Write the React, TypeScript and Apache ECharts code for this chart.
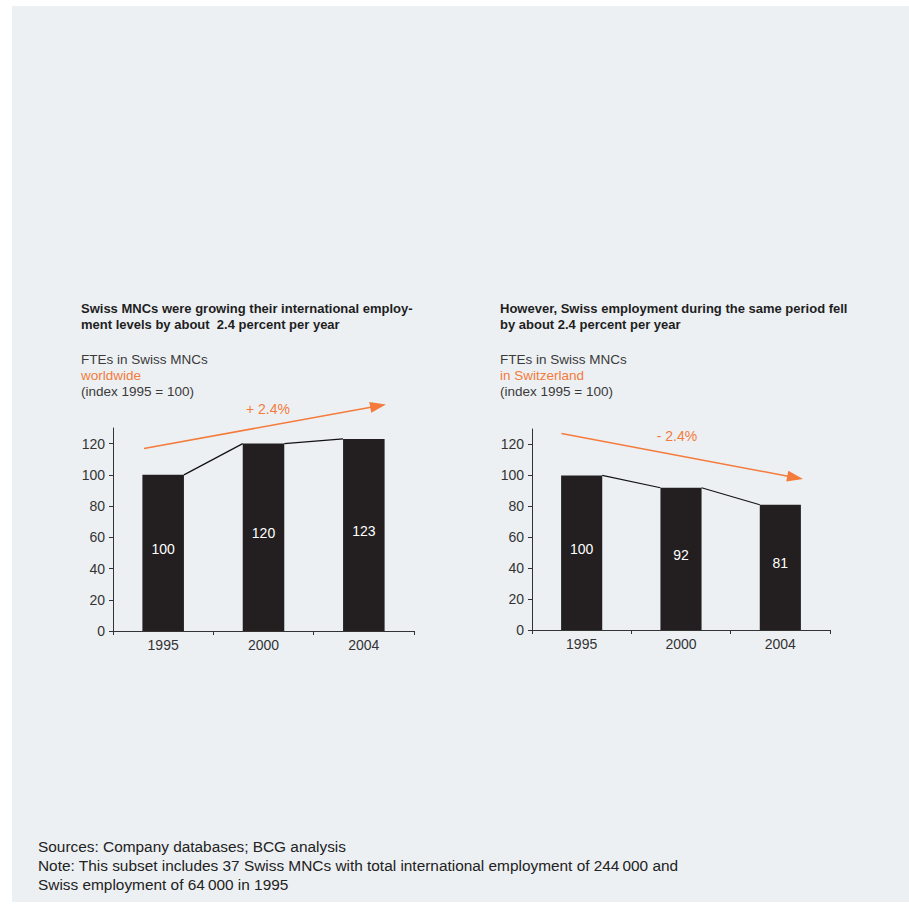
import React, { useEffect, useRef } from "react";
import * as echarts from "echarts";

const categories = ["1995", "2000", "2004"];
const worldwide = [100, 120, 123];
const switzerland = [100, 92, 81];
const yTickValues = [0, 20, 40, 60, 80, 100, 120];

const leftTitle = ["Swiss MNCs were growing their international employ-", "ment levels by about  2.4 percent per year"];
const rightTitle = ["However, Swiss employment during the same period fell", "by about 2.4 percent per year"];
const leftSub = ["FTEs in Swiss MNCs", "worldwide", "(index 1995 = 100)"];
const rightSub = ["FTEs in Swiss MNCs", "in Switzerland", "(index 1995 = 100)"];
const leftTrend = "+ 2.4%";
const rightTrend = "- 2.4%";
const notes = [
  "Sources: Company databases; BCG analysis",
  "Note: This subset includes 37 Swiss MNCs with total international employment of 244\u2009000 and",
  "Swiss employment of 64\u2009000 in 1995",
];

const FONT = "'Liberation Sans', Arial, Helvetica, sans-serif";
const ORANGE = "#f47b3b";
const BAR = "#231f20";
const AXIS = "#333333";

function arrow(x1: number, y1: number, x2: number, y2: number) {
  const headLen = 16;
  const headW = 5.5;
  const dx = x2 - x1;
  const dy = y2 - y1;
  const len = Math.sqrt(dx * dx + dy * dy);
  const ux = dx / len;
  const uy = dy / len;
  const bx = x2 - ux * headLen;
  const by = y2 - uy * headLen;
  const px = -uy;
  const py = ux;
  return [
    {
      type: "line",
      shape: { x1, y1, x2: bx + ux * 2, y2: by + uy * 2 },
      style: { stroke: ORANGE, lineWidth: 1.5 },
    },
    {
      type: "polygon",
      shape: {
        points: [
          [x2, y2],
          [bx + px * headW, by + py * headW],
          [bx - px * headW, by - py * headW],
        ],
      },
      style: { fill: ORANGE },
    },
  ];
}

function textBlock(x: number, y: number, lines: string[], opts: any) {
  return {
    type: "text",
    x,
    y,
    style: {
      text: lines.join("\n"),
      font: opts.font,
      fill: opts.fill,
      lineHeight: opts.lineHeight,
      verticalAlign: "top",
      align: "left",
    },
  };
}

function connector(values: number[]) {
  return (params: any, api: any) => {
    const i = params.dataIndex;
    if (i >= values.length - 1) return null;
    const p1 = api.coord([i, values[i]]);
    const p2 = api.coord([i + 1, values[i + 1]]);
    const half = api.size([0, 0])[0] * 0.207;
    return {
      type: "line",
      shape: { x1: p1[0] + half, y1: p1[1], x2: p2[0] - half, y2: p2[1] },
      style: { stroke: "#111111", lineWidth: 1.2 },
    };
  };
}

export default function App() {
  const ref = useRef<HTMLDivElement>(null);
  useEffect(() => {
    document.body.style.margin = "0";
    const chart = echarts.init(ref.current!, null, { renderer: "svg" });

    const xAxisBase = (gridIndex: number) => ({
      type: "category",
      gridIndex,
      data: categories,
      boundaryGap: true,
      axisLine: { lineStyle: { color: AXIS, width: 1 } },
      axisTick: { show: true, length: 4, alignWithLabel: false, lineStyle: { color: AXIS } },
      axisLabel: { color: AXIS, fontSize: 14, fontFamily: FONT, margin: 7 },
      splitLine: { show: false },
    });
    const yAxisBase = (gridIndex: number) => ({
      type: "value",
      gridIndex,
      min: 0,
      max: 130,
      axisLine: { show: true, lineStyle: { color: AXIS, width: 1 } },
      axisTick: { show: true, length: 4, lineStyle: { color: AXIS }, customValues: yTickValues },
      axisLabel: { color: AXIS, fontSize: 14, fontFamily: FONT, margin: 8, customValues: yTickValues },
      splitLine: { show: false },
    });
    const barSeries = (idx: number, values: number[]) => ({
      type: "bar",
      xAxisIndex: idx,
      yAxisIndex: idx,
      data: values,
      barWidth: "41.4%",
      itemStyle: { color: BAR },
      label: {
        show: true,
        position: "inside",
        offset: [0, -4],
        color: "#ffffff",
        fontSize: 14,
        fontFamily: FONT,
      },
      z: 2,
    });
    const connSeries = (idx: number, values: number[]) => ({
      type: "custom",
      xAxisIndex: idx,
      yAxisIndex: idx,
      data: values.map((v, i) => [i, v]),
      renderItem: connector(values),
      z: 3,
    });

    const titleOpts = {
      font: `bold 13px ${FONT}`,
      fill: "#1e1e1e",
      lineHeight: 16,
    };
    const sub = (x: number, lines: string[]) => ({
      type: "text",
      x,
      y: 351,
      style: {
        text: `{a|${lines[0]}}\n{o|${lines[1]}}\n{a|${lines[2]}}`,
        verticalAlign: "top",
        align: "left",
        rich: {
          a: { fontSize: 13.5, fontFamily: FONT, fill: "#3a3a3a", lineHeight: 16 },
          o: { fontSize: 13.5, fontFamily: FONT, fill: ORANGE, lineHeight: 16 },
        },
      },
    });

    chart.setOption({
      animation: false,
      backgroundColor: "#ffffff",
      grid: [
        { left: 113, top: 428, width: 301, height: 203 },
        { left: 532, top: 429, width: 298, height: 201 },
      ],
      xAxis: [xAxisBase(0), xAxisBase(1)],
      yAxis: [yAxisBase(0), yAxisBase(1)],
      series: [
        barSeries(0, worldwide),
        connSeries(0, worldwide),
        barSeries(1, switzerland),
        connSeries(1, switzerland),
      ],
      graphic: [
        {
          type: "rect",
          z: -10,
          silent: true,
          shape: { x: 12, y: 6, width: 897, height: 896 },
          style: { fill: "#edf0f3" },
        },
        textBlock(81, 300, leftTitle, titleOpts),
        textBlock(500, 300, rightTitle, titleOpts),
        sub(81, leftSub),
        sub(500, rightSub),
        ...arrow(144, 448.5, 386, 404.5),
        ...arrow(561.5, 433.5, 803, 479),
        {
          type: "text",
          x: 268,
          y: 409,
          style: {
            text: leftTrend,
            font: `14px ${FONT}`,
            fill: ORANGE,
            align: "center",
            verticalAlign: "middle",
          },
        },
        {
          type: "text",
          x: 677,
          y: 436,
          style: {
            text: rightTrend,
            font: `14px ${FONT}`,
            fill: ORANGE,
            align: "center",
            verticalAlign: "middle",
          },
        },
        textBlock(38, 837, notes, { font: `15.4px ${FONT}`, fill: "#222222", lineHeight: 19 }),
      ],
    });
    return () => chart.dispose();
  }, []);
  return <div ref={ref} style={{ width: 909, height: 907 }} />;
}
